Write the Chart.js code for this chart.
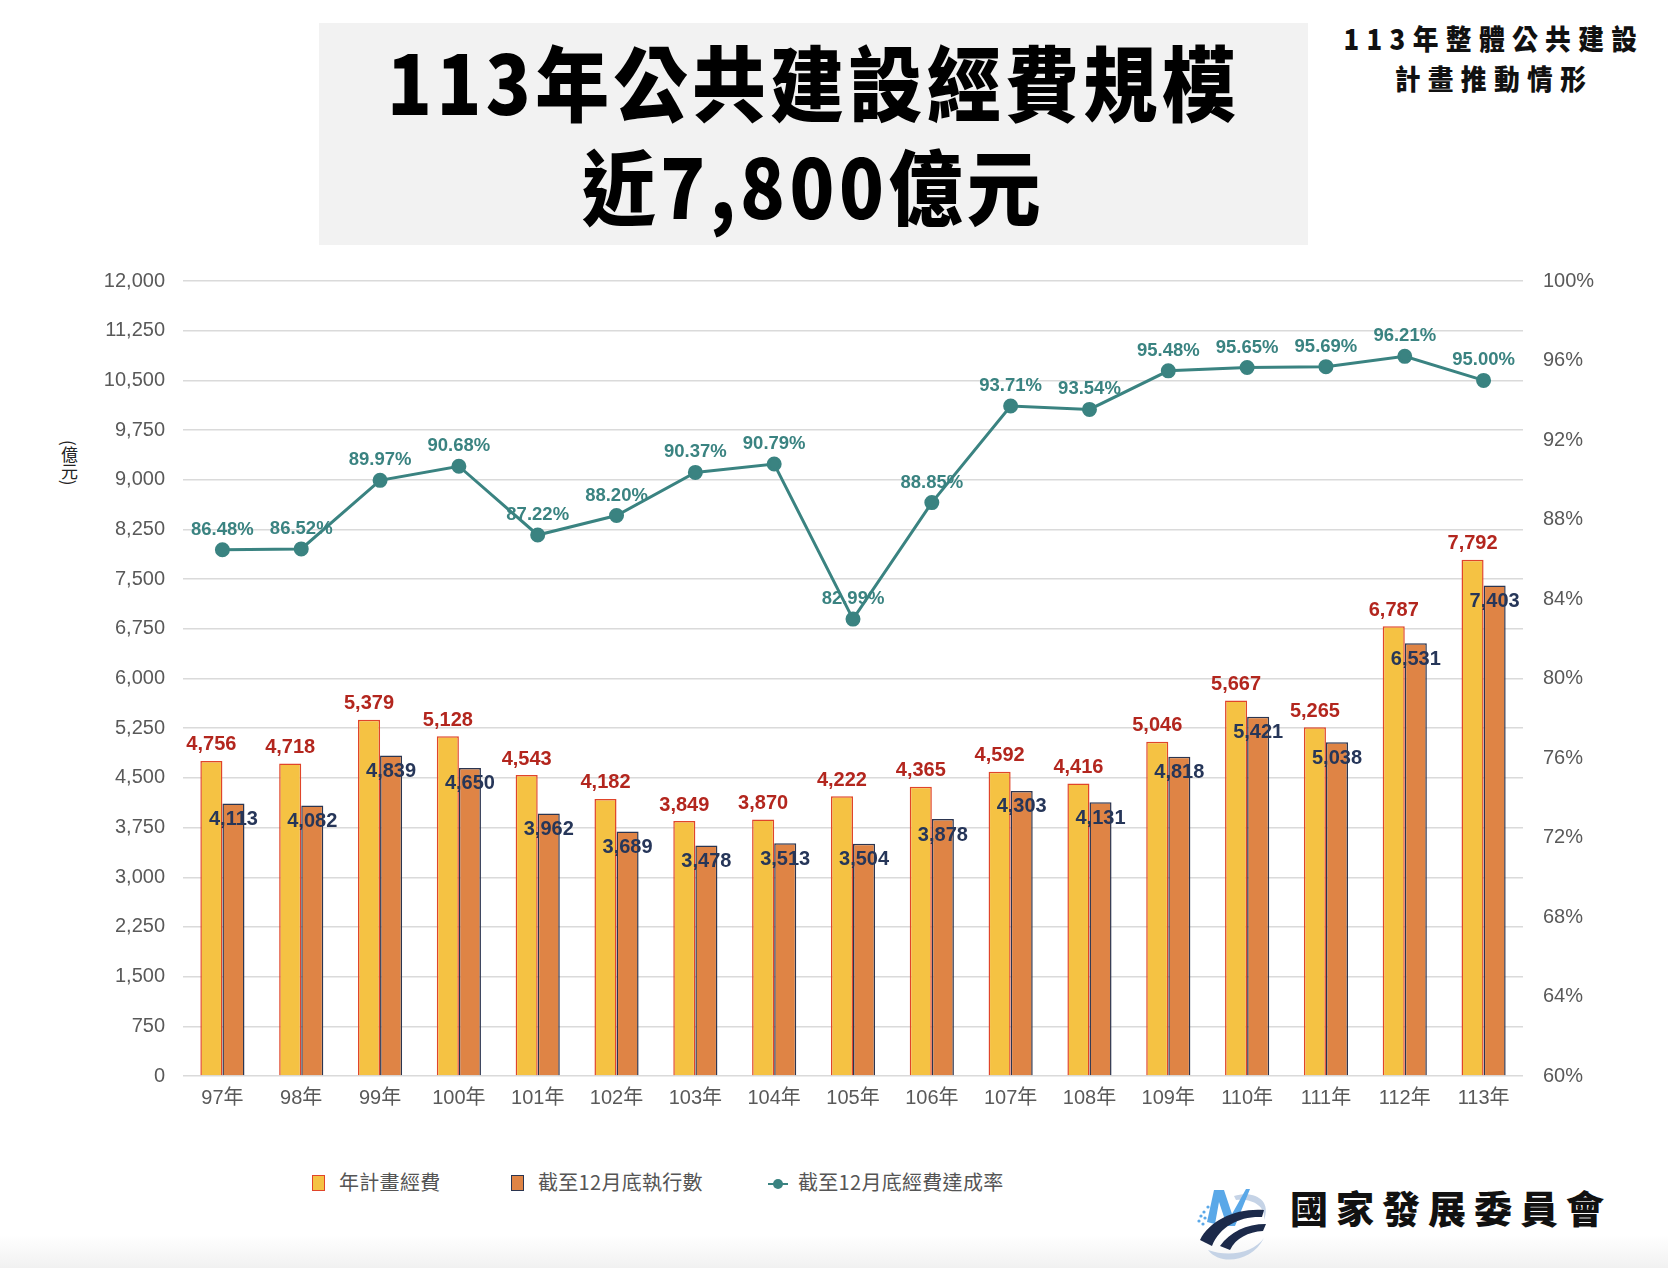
<!DOCTYPE html>
<html>
<head>
<meta charset="utf-8">
<script src="https://cdn.jsdelivr.net/npm/chart.js@4.4.1/dist/chart.umd.min.js"></script>
<style>
  body { margin: 0; width: 1668px; height: 1268px; background: #fff; position: relative; overflow: hidden;
         font-family: "Noto Sans CJK TC", "Liberation Sans", sans-serif; }
  .abs { position: absolute; }
  #titleBox { left: 319px; top: 23px; width: 989px; height: 222px; background: #f2f2f2; }
  .title { left: 319px; width: 989px; text-align: center; font-size: 82px; font-weight: 900;
           letter-spacing: 5px; color: #000; line-height: 100px; transform: scaleX(0.9); white-space: nowrap; }
  .sub { left: 1294px; width: 400px; text-align: center; font-size: 28px; font-weight: 900;
         letter-spacing: 8px; color: #111; line-height: 36px; transform: scaleX(0.92); white-space: nowrap; }
  #chartBox { left: 0; top: 249px; width: 1668px; height: 867px; }
  #unit { left: 57px; top: 440px; writing-mode: vertical-rl; font-size: 17px; color: #222; }
  .leg { top: 1169px; font-size: 20px; color: #555; line-height: 26px; letter-spacing: 0.3px; }
  .sw { display: inline-block; width: 11px; height: 14px; vertical-align: -1px; margin-right: 14px; }
  #org { left: 1290px; top: 1180px; font-size: 38px; font-weight: 900; letter-spacing: 8px; line-height: 54px; color: #111; }
  #foot { left: 0; top: 1235px; width: 1668px; height: 33px; background: linear-gradient(#fff, #f1f1f1); }
</style>
</head>
<body>
<div id="foot" class="abs"></div>
<div id="titleBox" class="abs"></div>
<div class="abs title" style="top:30px">113年公共建設經費規模</div>
<div class="abs title" style="top:134px">近7,800億元</div>
<div class="abs sub" style="top:20px">113年整體公共建設</div>
<div class="abs sub" style="top:60px">計畫推動情形</div>

<div id="unit" class="abs">(億元)</div>
<div id="chartBox" class="abs"><canvas id="chart"></canvas></div>

<div class="abs leg" style="left:312px"><span class="sw" style="background:#f5c243;border:1.5px solid #e0452a"></span>年計畫經費</div>
<div class="abs leg" style="left:511px"><span class="sw" style="background:#df8445;border:1.5px solid #2b3550"></span>截至12月底執行數</div>
<div class="abs leg" style="left:768px">
  <svg width="20" height="14" style="vertical-align:-1px;margin-right:10px"><line x1="0" y1="7" x2="20" y2="7" stroke="#3a8381" stroke-width="2"/><circle cx="10" cy="7" r="5" fill="#3a8381"/></svg>截至12月底經費達成率</div>

<!-- logo -->
<svg class="abs" style="left:1190px;top:1180px" width="90" height="85" viewBox="0 0 90 85">
  <path d="M44 16 C 64 10, 82 20, 74 40 C 76 26, 62 18, 46 20 Z" fill="#c5d3e6"/>
  <path d="M18 70 C 30 86, 62 82, 74 58 C 64 72, 40 78, 18 70 Z" fill="#c5d3e6"/>
  <polygon points="17,42 24,10 34,10 42,34 56,9 60,9 45,46 37,46 29,22 25,44" fill="#5aa8e8"/>
  <g fill="#5aa8e8"><circle cx="11" cy="36" r="1.6"/><circle cx="14" cy="32" r="1.6"/><circle cx="9" cy="41" r="1.6"/><circle cx="13" cy="44" r="1.6"/><circle cx="15" cy="38" r="1.6"/><circle cx="18" cy="27" r="1.6"/></g>
  <path d="M10 60 C 20 40, 46 28, 74 30 L 72 37 C 50 36, 30 46, 22 66 Z" fill="#1c2a4a"/>
  <path d="M30 66 C 40 52, 56 44, 76 44 L 73 51 C 58 52, 46 58, 40 70 Z" fill="#1c2a4a"/>
</svg>
<div id="org" class="abs">國家發展委員會</div>

<script>
const years = ["97年","98年","99年","100年","101年","102年","103年","104年","105年","106年","107年","108年","109年","110年","111年","112年","113年"];
const planned = [4756, 4718, 5379, 5128, 4543, 4182, 3849, 3870, 4222, 4365, 4592, 4416, 5046, 5667, 5265, 6787, 7792];
const executed = [4113, 4082, 4839, 4650, 3962, 3689, 3478, 3513, 3504, 3878, 4303, 4131, 4818, 5421, 5038, 6531, 7403];
const rate = [86.48, 86.52, 89.97, 90.68, 87.22, 88.20, 90.37, 90.79, 82.99, 88.85, 93.71, 93.54, 95.48, 95.65, 95.69, 96.21, 95.00];

const tickFont = { family: "'Liberation Sans', 'Noto Sans CJK TC', sans-serif", size: 20 };
const tickColor = "#595959";

// labels on bars and points
const valueLabels = {
  id: "valueLabels",
  afterDatasetsDraw(chart) {
    const ctx = chart.ctx;
    ctx.save();
    ctx.textAlign = "center";
    ctx.textBaseline = "middle";
    chart.data.datasets.forEach((ds, i) => {
      chart.getDatasetMeta(i).data.forEach((el, j) => {
        const v = ds.data[j];
        if (i === 0) {
          ctx.font = "bold 20px 'Liberation Sans', sans-serif";
          ctx.fillStyle = "#b3261e";
          ctx.fillText(v.toLocaleString("en-US"), el.x, el.y - 16);
        } else if (i === 1) {
          ctx.font = "bold 20px 'Liberation Sans', sans-serif";
          ctx.fillStyle = "#263659";
          ctx.fillText(v.toLocaleString("en-US"), el.x, el.y + 16);
        } else {
          ctx.font = "bold 18.5px 'Liberation Sans', sans-serif";
          ctx.fillStyle = "#3a8381";
          ctx.fillText(v.toFixed(2) + "%", el.x, el.y - 20);
        }
      });
    });
    ctx.restore();
  }
};

new Chart(document.getElementById("chart"), {
  type: "bar",
  data: {
    labels: years,
    datasets: [
      { label: "年計畫經費", data: planned, backgroundColor: "#f5c243", borderColor: "#e0452a", borderWidth: 1.5,
        yAxisID: "y", order: 1, categoryPercentage: 0.56, barPercentage: 1.0 },
      { label: "截至12月底執行數", data: executed, backgroundColor: "#df8445", borderColor: "#2b3550", borderWidth: 1.5,
        yAxisID: "y", order: 1, categoryPercentage: 0.56, barPercentage: 1.0 },
      { label: "截至12月底經費達成率", type: "line", data: rate, borderColor: "#3a8381", backgroundColor: "#3a8381",
        borderWidth: 3, pointRadius: 6, pointHoverRadius: 6, yAxisID: "y1", order: 0 }
    ]
  },
  options: {
    responsive: true,
    maintainAspectRatio: false,
    animation: false,
    plugins: { legend: { display: false }, tooltip: { enabled: false } },
    scales: {
      x: {
        grid: { display: false, drawTicks: false },
        border: { display: false },
        ticks: { font: tickFont, color: tickColor, padding: 10 },
        afterFit: s => { s.height = 40; }
      },
      y: {
        position: "left", min: 0, max: 12000,
        ticks: { stepSize: 750, font: tickFont, color: tickColor, padding: 18,
                 callback: v => v.toLocaleString("en-US") },
        grid: { color: "#dadada", lineWidth: 1.5, drawTicks: false },
        border: { display: false },
        afterFit: s => { s.width = 183; }
      },
      y1: {
        position: "right", min: 60, max: 100,
        ticks: { stepSize: 4, font: tickFont, color: tickColor, padding: 20, callback: v => v + "%" },
        grid: { drawOnChartArea: false, drawTicks: false },
        border: { display: false },
        afterFit: s => { s.width = 145; }
      }
    }
  },
  plugins: [valueLabels]
});
</script>
</body>
</html>
